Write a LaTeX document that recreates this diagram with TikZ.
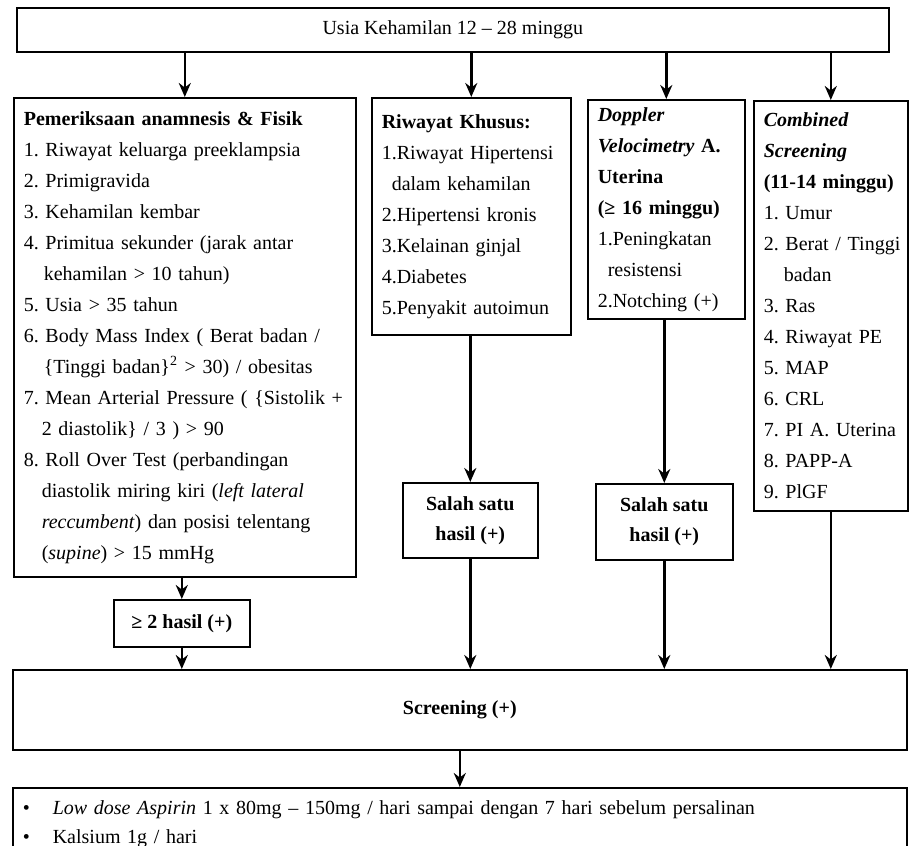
\documentclass[tikz,border=0pt]{standalone}
\usepackage{fontspec}
\setmainfont{Liberation Serif}
\usepackage{tikz}
\usetikzlibrary{arrows.meta}

\begin{document}
\begin{tikzpicture}[x=0.5pt, y=-0.5pt, font=\fontsize{10}{15.5}\selectfont\frenchspacing,
  box/.style={draw, line width=0.8pt, anchor=north west, inner xsep=5pt, inner ysep=0pt, align=left},
  res/.style={draw, line width=0.8pt, anchor=north west, align=center, font=\fontsize{10}{15}\selectfont\frenchspacing\bfseries},
  arr/.style={-{Stealth[length=7pt, width=6pt]}, line width=1.2pt}]
  \useasboundingbox (0,0) rectangle (912,846);

  % top
  \node[draw, line width=0.8pt, anchor=north west, minimum width=436pt, minimum height=22pt] (usia) at (16,7) {Usia Kehamilan 12 – 28 minggu};

  % four columns
  \node[box, text width=161pt, minimum height=239.5pt] (anam) at (13,97) {%
    \textbf{Pemeriksaan anamnesis \& Fisik}\\
    1. Riwayat keluarga preeklampsia\\
    2. Primigravida\\
    3. Kehamilan kembar\\
    4. Primitua sekunder (jarak antar\\
    \hspace*{10pt}kehamilan > 10 tahun)\\
    5. Usia > 35 tahun\\
    6. Body Mass Index ( Berat badan /\\
    \hspace*{10pt}\{Tinggi badan\}\textsuperscript{2} > 30) / obesitas\\
    7. Mean Arterial Pressure ( \{Sistolik +\\
    \hspace*{9pt}2 diastolik\} / 3 ) > 90\\
    8. Roll Over Test (perbandingan\\
    \hspace*{9pt}diastolik miring kiri (\textit{left lateral}\\
    \hspace*{9pt}\textit{reccumbent}) dan posisi telentang\\
    \hspace*{9pt}(\textit{supine}) > 15 mmHg};
  \node[box, text width=89.5pt, minimum height=118.5pt] (riwayat) at (371,97) {%
    \textbf{Riwayat Khusus:}\\
    1.Riwayat Hipertensi\\
    \hspace*{5pt}dalam kehamilan\\
    2.Hipertensi kronis\\
    3.Kelainan ginjal\\
    4.Diabetes\\
    5.Penyakit autoimun};
  \node[box, text width=68.5pt, minimum height=109.5pt] (doppler) at (587,99) {%
    \textbf{\textit{Doppler}}\\
    \textbf{\textit{Velocimetry} A.}\\
    \textbf{Uterina}\\
    \textbf{(≥ 16 minggu)}\\
    1.Peningkatan\\
    \hspace*{5pt}resistensi\\
    2.Notching (+)};
  \node[box, text width=67pt, minimum height=205pt] (combined) at (753,100) {%
    \textbf{\textit{Combined}}\\
    \textbf{\textit{Screening}}\\
    \textbf{(11-14 minggu)}\\
    1. Umur\\
    \mbox{2. Berat / Tinggi}\\
    \hspace*{10pt}badan\\
    3. Ras\\
    4. Riwayat PE\\
    5. MAP\\
    6. CRL\\
    \mbox{7. PI A. Uterina}\\
    8. PAPP-A\\
    9. PlGF};

  % results
  \node[res, minimum width=67.5pt, minimum height=37.5pt] (salah1) at (402,482) {Salah satu\\hasil (+)};
  \node[res, minimum width=68.5pt, minimum height=38pt] (salah2) at (595,483) {Salah satu\\hasil (+)};
  \node[res, minimum width=68pt, minimum height=23.5pt] (dua) at (113,599) {≥ 2 hasil (+)};
  \node[res, minimum width=447pt, minimum height=40pt] (screen) at (12,669) {Screening (+)};

  \node[box, text width=437pt, inner ysep=6.5pt, font=\fontsize{10}{14.5}\selectfont\frenchspacing] (terapi) at (12,787) {%
    \makebox[15pt][l]{\textbullet}\textit{Low dose Aspirin} 1 x 80mg – 150mg / hari sampai dengan 7 hari sebelum persalinan\\
    \makebox[15pt][l]{\textbullet}Kalsium 1g / hari};

  % arrows
  \draw[arr] (usia.south -| anam.north) -- (anam.north);
  \draw[arr] (usia.south -| riwayat.north) -- (riwayat.north);
  \draw[arr] (usia.south -| doppler.north) -- (doppler.north);
  \draw[arr] (usia.south -| combined.north) -- (combined.north);

  \draw[arr] (anam.south -| dua.north) -- (dua.north);
  \draw[arr] (riwayat.south -| salah1.north) -- (salah1.north);
  \draw[arr] (doppler.south -| salah2.north) -- (salah2.north);

  \draw[arr] (dua.south) -- (dua.south |- screen.north);
  \draw[arr] (salah1.south) -- (salah1.south |- screen.north);
  \draw[arr] (salah2.south) -- (salah2.south |- screen.north);
  \draw[arr] (combined.south) -- (combined.south |- screen.north);

  \draw[arr] (screen.south) -- (screen.south |- terapi.north);
\end{tikzpicture}
\end{document}
